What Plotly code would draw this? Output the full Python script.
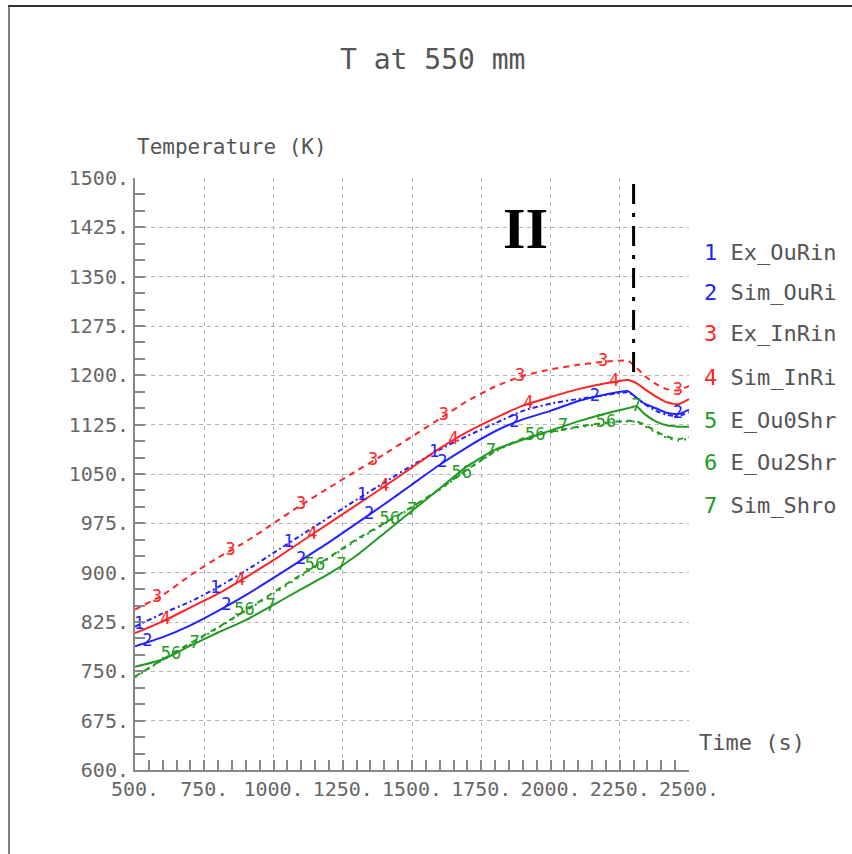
import numpy as np
import plotly.graph_objects as go

# Time axis (s)
time_s = [500, 600, 700, 800, 900, 1000, 1100, 1200, 1300, 1400, 1500, 1600, 1700,
          1800, 1900, 2000, 2100, 2200, 2280, 2310, 2340, 2380, 2420, 2460, 2500]

# Temperatures (K)
ex_ourin = [818, 838, 856, 878, 903, 930, 957, 984, 1011, 1037, 1063, 1087, 1108,
            1127, 1146, 1157, 1164, 1170, 1174, 1166, 1156, 1146, 1140, 1138, 1144]
sim_ouri = [788, 802, 820, 842, 866, 892, 919, 946, 975, 1004, 1034, 1064, 1091,
            1115, 1133, 1146, 1161, 1171, 1176, 1166, 1157, 1150, 1143, 1141, 1148]
ex_inrin = [844, 866, 896, 923, 947, 975, 1003, 1029, 1055, 1080, 1107, 1134, 1161,
            1183, 1199, 1209, 1216, 1221, 1222, 1212, 1199, 1187, 1179, 1177, 1184]
sim_inri = [808, 826, 847, 868, 893, 919, 947, 975, 1003, 1031, 1060, 1089, 1114,
            1135, 1154, 1167, 1179, 1188, 1193, 1188, 1179, 1168, 1159, 1156, 1164]
e_ou0shr = [742, 768, 793, 817, 843, 870, 897, 923, 951, 975, 1000, 1027, 1057,
            1085, 1104, 1114, 1122, 1128, 1131, 1130, 1125, 1115, 1107, 1103, 1106]
e_ou2shr = [741, 767, 791, 816, 842, 868, 895, 922, 949, 974, 999, 1026, 1056,
            1084, 1103, 1113, 1121, 1127, 1130, 1129, 1123, 1113, 1105, 1101, 1104]
sim_shro = [757, 768, 789, 809, 828, 851, 875, 898, 926, 960, 994, 1028, 1062,
            1087, 1102, 1116, 1130, 1142, 1150, 1153, 1141, 1130, 1124, 1122, 1122]

# Phase boundary marker
phase_time = [2300, 2300]
phase_temp = [1205, 1500]

# Axis ticks
x_ticks = [500, 750, 1000, 1250, 1500, 1750, 2000, 2250, 2500]
x_tick_text = ["500.", "750.", "1000.", "1250.", "1500.", "1750.", "2000.", "2250.", "2500."]
y_ticks = [600, 675, 750, 825, 900, 975, 1050, 1125, 1200, 1275, 1350, 1425, 1500]
y_tick_text = ["600.", "675.", "750.", "825.", "900.", "975.", "1050.", "1125.",
               "1200.", "1275.", "1350.", "1425.", "1500."]

BLUE = "#2222ff"
RED = "#ff2424"
GREEN = "#229a22"
GREY = "#666666"
MONO = "DejaVu Sans Mono"

# (id, name, values, colour, dash, label times along the curve)
series = [
    ("1", "Ex_OuRin", ex_ourin, BLUE, "5px,3px,2px,3px", [515, 790, 1055, 1320, 1580]),
    ("2", "Sim_OuRi", sim_ouri, BLUE, "solid", [545, 830, 1100, 1345, 1610, 1870, 2160, 2460]),
    ("3", "Ex_InRin", ex_inrin, RED, "6px,5px", [580, 845, 1100, 1360, 1615, 1890, 2190, 2460]),
    ("4", "Sim_InRi", sim_inri, RED, "solid", [610, 880, 1140, 1400, 1650, 1920, 2230]),
    ("5", "E_Ou0Shr", e_ou0shr, GREEN, "6px,5px", []),
    ("6", "E_Ou2Shr", e_ou2shr, GREEN, "2px,5px", []),
    ("7", "Sim_Shro", sim_shro, GREEN, "solid", [715, 990, 1245, 1500, 1785, 2045, 2310]),
]

fig = go.Figure()

for sid, name, vals, col, dash, spots in series:
    fig.add_trace(go.Scatter(
        x=time_s, y=vals, mode="lines", name=name,
        line=dict(color=col, width=2, dash=dash, shape="spline", smoothing=0.5),
        showlegend=False, hoverinfo="skip"))

# numbered labels along each curve
def add_curve_labels(text, vals, col, spots):
    if not spots:
        return
    fig.add_trace(go.Scatter(
        x=spots, y=np.interp(spots, time_s, vals), mode="text", text=[text] * len(spots),
        textfont=dict(family=MONO, size=17, color=col), cliponaxis=False,
        showlegend=False, hoverinfo="skip"))

for sid, name, vals, col, dash, spots in series:
    add_curve_labels(sid, vals, col, spots)
add_curve_labels("56", e_ou0shr, GREEN, [630, 895, 1150, 1420, 1680, 1945, 2200])

fig.add_trace(go.Scatter(
    x=phase_time, y=phase_temp, mode="lines",
    line=dict(color="black", width=3, dash="20px,9px,4px,9px"),
    showlegend=False, hoverinfo="skip"))

PL, PR, PT, PB = 135, 689, 178, 770
def px(x):
    return (x - PL) / (PR - PL)
def py(y):
    return (PB - y) / (PB - PT)

annotations = [
    dict(x=px(432), y=py(60), text="T at 550 mm", font=dict(family=MONO, size=28, color="#555555")),
    dict(x=px(135), y=py(147), text="Temperature (K)", xanchor="left",
         font=dict(family=MONO, size=21, color="#555555")),
    dict(x=px(697), y=py(742), text="Time (s)", xanchor="left",
         font=dict(family=MONO, size=22, color="#555555")),
    dict(x=px(525), y=py(228), text="<b>II</b>",
         font=dict(family="Liberation Serif", size=58, color="black")),
]

legend_rows = [252, 292, 333, 377, 420, 462, 505]
for (sid, name, vals, col, dash, spots), yrow in zip(series, legend_rows):
    annotations.append(dict(
        x=px(702), y=py(yrow), xanchor="left",
        text=f"<span style='color:{col}'>{sid}</span> {name}",
        font=dict(family=MONO, size=22, color="#555555")))

for a in annotations:
    a.update(xref="paper", yref="paper", showarrow=False, yanchor="middle")
    a.setdefault("xanchor", "center")

shapes = [
    dict(type="line", xref="paper", yref="paper", x0=px(8), x1=px(852), y0=py(6), y1=py(6),
         line=dict(color="#333333", width=2)),
    dict(type="line", xref="paper", yref="paper", x0=px(9), x1=px(9), y0=py(6), y1=py(854),
         line=dict(color="#555555", width=1.5)),
]

axis_common = dict(
    showgrid=True, gridcolor="#b4b4b4", gridwidth=1, griddash="4px,4px",
    showline=True, linecolor="#888888", linewidth=2,
    ticks="inside", ticklen=10, tickwidth=1.5, tickcolor="#888888",
    tickfont=dict(family=MONO, size=20, color=GREY),
    zeroline=False, fixedrange=True,
)

fig.update_layout(
    width=852, height=854,
    margin=dict(l=PL, r=852 - PR, t=PT, b=854 - PB, pad=0),
    paper_bgcolor="white", plot_bgcolor="white",
    xaxis=dict(range=[500, 2500], tickvals=x_ticks, ticktext=x_tick_text,
               minor=dict(dtick=50, tick0=500, ticks="inside", ticklen=10,
                          tickcolor="#888888", tickwidth=1.5, showgrid=False),
               **axis_common),
    yaxis=dict(range=[600, 1500], tickvals=y_ticks, ticktext=y_tick_text,
               minor=dict(dtick=25, tick0=600, ticks="inside", ticklen=10,
                          tickcolor="#888888", tickwidth=1.5, showgrid=False),
               **axis_common),
    annotations=annotations,
    shapes=shapes,
)

fig.write_html("out.html")
